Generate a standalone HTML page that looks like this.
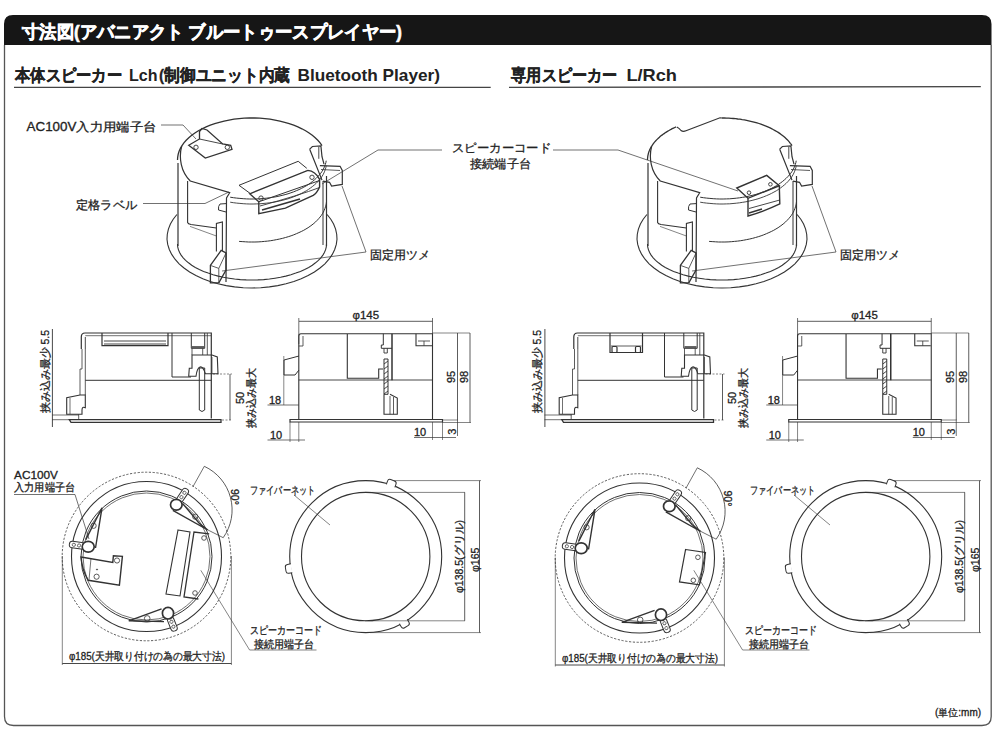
<!DOCTYPE html>
<html><head><meta charset="utf-8">
<style>
html,body{margin:0;padding:0;background:#fff;width:1000px;height:750px;overflow:hidden}
svg{display:block}
text{font-family:"Liberation Sans",sans-serif;fill:#222;stroke:#222;stroke-width:0.3}
</style></head>
<body>
<svg width="1000" height="750" viewBox="0 0 1000 750">
<path d="M4.5,45 V716.5 Q4.5,725.5 13.5,725.5 H982 Q991.2,725.5 991.2,716.5 V45" fill="none" stroke="#555" stroke-width="1.3"/>
<path d="M4,45 V24 Q4,15 13,15 H982 Q991.5,15 991.5,24 V45 Z" fill="#161616"/>
<text x="22" y="37.5" font-size="17.5" font-weight="bold" textLength="380" lengthAdjust="spacingAndGlyphs" style="fill:#fff;stroke:#fff;stroke-width:0.6">寸法図(アバニアクト ブルートゥースプレイヤー)</text>
<g font-size="16.5" font-weight="bold" style="fill:#1a1a1a">
<text x="15" y="81.3" textLength="107" lengthAdjust="spacingAndGlyphs">本体スピーカー</text>
<text x="129" y="81.3" textLength="28.5" lengthAdjust="spacingAndGlyphs" style="stroke-width:0">Lch</text>
<text x="159" y="81.3" textLength="131" lengthAdjust="spacingAndGlyphs">(制御ユニット内蔵</text>
<text x="297.5" y="81.3" textLength="142.5" lengthAdjust="spacingAndGlyphs" style="stroke-width:0">Bluetooth Player)</text></g>
<line x1="14" y1="87.4" x2="490.7" y2="87.4" stroke="#444" stroke-width="1.4"/>
<g font-size="16.5" font-weight="bold" style="fill:#1a1a1a">
<text x="511.4" y="81.3" textLength="105.6" lengthAdjust="spacingAndGlyphs">専用スピーカー</text>
<text x="626.4" y="81.3" textLength="50.6" lengthAdjust="spacingAndGlyphs" style="stroke-width:0">L/Rch</text></g>
<line x1="509" y1="87.4" x2="980.8" y2="86.6" stroke="#444" stroke-width="1.4"/>
<text x="935" y="716" font-size="10">(単位:mm)</text>
<g>
<path d="M327.1,214.5 L330.8,219.2 L333.6,224.1 L335.6,229.1 L336.7,234.2 L337.0,239.3 L336.3,244.4 L334.7,249.5 L332.3,254.4 L329.0,259.2 L324.9,263.8 L320.0,268.0 L314.4,272.0 L308.1,275.6 L301.2,278.8 L293.9,281.5 L286.0,283.8 L277.8,285.6 L269.4,286.9 L260.7,287.7 L252.0,288.0 L243.3,287.7 L234.6,286.9 L226.2,285.6 L218.0,283.8 L210.1,281.5 L202.8,278.8 L195.9,275.6 L189.6,272.0 L184.0,268.0 L179.1,263.8 L175.0,259.2 L171.7,254.4 L169.3,249.5 L167.7,244.4 L167.0,239.3 L167.3,234.2 L168.4,229.1 L170.4,224.1 L173.2,219.2 L176.9,214.5" fill="none" stroke="#333" stroke-width="1.1" />
<path d="M326.5,244.0 L326.3,246.8 L325.6,249.6 L324.4,252.4 L322.9,255.1 L320.8,257.8 L318.4,260.3 L315.5,262.8 L312.3,265.2 L308.7,267.4 L304.7,269.5 L300.4,271.4 L295.8,273.1 L290.9,274.7 L285.8,276.1 L280.5,277.3 L275.0,278.2 L269.4,279.0 L263.7,279.6 L257.8,279.9 L252.0,280.0 L246.2,279.9 L240.3,279.6 L234.6,279.0 L229.0,278.2 L223.5,277.3 L218.2,276.1 L213.1,274.7 L208.2,273.1 L203.6,271.4 L199.3,269.5 L195.3,267.4 L191.7,265.2 L188.5,262.8 L185.6,260.3 L183.2,257.8 L181.1,255.1 L179.6,252.4 L178.4,249.6 L177.7,246.8 L177.5,244.0" fill="none" stroke="#333" stroke-width="1.1" />
<line x1="178" y1="163" x2="178" y2="246" stroke="#333" stroke-width="1.2" />
<line x1="326.5" y1="176" x2="326.5" y2="246" stroke="#333" stroke-width="1.2" />
<path d="M177.5,160.0 L177.7,157.1 L178.2,154.2 L179.1,151.3 L180.4,148.4 L182.0,145.6 L183.9,142.9 L186.2,140.3 L188.8,137.7 L191.7,135.3 L194.9,133.0 L198.4,130.8 L202.1,128.8 L206.1,126.9 L210.3,125.2 L214.7,123.6 L219.3,122.3 L224.1,121.1 L229.0,120.1 L234.0,119.2 L239.1,118.6 L244.2,118.2 L249.4,118.0 L254.6,118.0 L259.8,118.2 L264.9,118.6 L270.0,119.2 L275.0,120.1 L279.9,121.1 L284.7,122.3 L289.2,123.6 L293.7,125.2 L297.9,126.9 L301.9,128.8 L305.6,130.8 L309.1,133.0 L312.3,135.3 L315.2,137.7 L317.8,140.3 L320.1,142.9 L322.0,145.6" fill="none" stroke="#333" stroke-width="1.3" />
<path d="M181.7,146 C178.5,158 181,172 190.3,181 L229.7,192.7 L226.5,198 L226,282" fill="none" stroke="#333" stroke-width="1.2" />
<path d="M230.2,197.2 L233.4,197.7 L236.6,198.1 L239.9,198.4 L243.2,198.7 L246.5,198.9 L249.8,199.0 L253.1,199.0 L256.4,198.9 L259.7,198.8 L263.0,198.5 L266.3,198.2 L269.5,197.8 L272.7,197.3 L275.9,196.8 L279.0,196.1 L282.1,195.4 L285.1,194.6 L288.0,193.8 L290.9,192.8 L293.7,191.8 L296.4,190.7 L299.0,189.6 L301.5,188.4 L303.9,187.1 L306.3,185.8 L308.5,184.4 L310.6,182.9 L312.6,181.4 L314.4,179.9 L316.2,178.3 L317.8,176.7 L319.3,175.0 L320.7,173.3 L321.9,171.6 L323.0,169.8 L323.9,168.0 L324.7,166.2 L325.3,164.4 L325.9,162.5 L326.2,160.7" fill="none" stroke="#333" stroke-width="1.0" />
<path d="M230.2,202.2 L233.4,202.7 L236.6,203.1 L239.9,203.4 L243.2,203.7 L246.5,203.9 L249.8,204.0 L253.1,204.0 L256.4,203.9 L259.7,203.8 L263.0,203.5 L266.3,203.2 L269.5,202.8 L272.7,202.3 L275.9,201.8 L279.0,201.1 L282.1,200.4 L285.1,199.6 L288.0,198.8 L290.9,197.8 L293.7,196.8 L296.4,195.7 L299.0,194.6 L301.5,193.4 L303.9,192.1 L306.3,190.8 L308.5,189.4 L310.6,187.9 L312.6,186.4 L314.4,184.9 L316.2,183.3 L317.8,181.7 L319.3,180.0 L320.7,178.3 L321.9,176.6 L323.0,174.8 L323.9,173.0 L324.7,171.2 L325.3,169.4 L325.9,167.5 L326.2,165.7" fill="none" stroke="#333" stroke-width="0.9" />
<path d="M239.1,241.4 L242.2,241.6 L245.4,241.8 L248.6,242.0 L251.7,242.0 L254.9,242.0 L258.1,241.9 L261.3,241.7 L264.4,241.4 L267.6,241.1 L270.7,240.7 L273.7,240.2 L276.7,239.6 L279.7,239.0 L282.7,238.3 L285.5,237.5 L288.3,236.7 L291.1,235.8 L293.8,234.8 L296.4,233.7 L298.9,232.6 L301.3,231.5 L303.7,230.3 L305.9,229.0 L308.1,227.7 L310.1,226.3 L312.0,224.9 L313.9,223.4 L315.6,221.9 L317.2,220.3 L318.7,218.7 L320.0,217.1 L321.3,215.5 L322.4,213.8 L323.4,212.1 L324.2,210.3 L324.9,208.6 L325.5,206.8 L326.0,205.0 L326.3,203.3 L326.5,201.5" fill="none" stroke="#333" stroke-width="1.0" />
<path d="M187.6,181 L187.6,222.5 Q188,224 191,224.5 L216.4,228" fill="none" stroke="#333" stroke-width="1.1" />
<line x1="190" y1="226.4" x2="216.4" y2="236" stroke="#333" stroke-width="0.6" />
<path d="M226,203.6 L220,204 Q218,206 218.5,210 L226,212" fill="none" stroke="#333" stroke-width="1.0" />
<path d="M216.4,251.6 L216.4,223.4 L222.4,222 L222.4,251" fill="none" stroke="#333" stroke-width="1.1" />
<path d="M210.4,265.4 L221.2,250.4 L226,252.8 L226,270 L218.8,282.8 L210.4,282.8 Z" fill="none" stroke="#333" stroke-width="1.3" />
<path d="M210.4,265.4 L218.8,268.4 L218.8,282.8 M218.8,268.4 L226,253" fill="none" stroke="#333" stroke-width="0.8" />
<path d="M309.7,149.2 L312.4,146.5 L320.9,146 L322,156.7 L324,164.1 M309.7,149.2 L322,180.1" fill="none" stroke="#333" stroke-width="1.2" />
<line x1="318.8" y1="147" x2="318.8" y2="158.8" stroke="#333" stroke-width="0.9" />
<path d="M319.9,165.7 L340.1,166.3 L342.3,170.5 L342.3,184.4 L331.6,186 L329.5,182.3 L323,181.2" fill="none" stroke="#333" stroke-width="1.2" />
<line x1="321" y1="169.5" x2="340" y2="170.5" stroke="#333" stroke-width="0.8" />
<line x1="323" y1="181" x2="323" y2="245" stroke="#333" stroke-width="1.0" />
<path d="M188.7,145.3 L205.3,158 L232,149.3 L230.7,145.3 L222.7,144 L207,130 L202,128.5 L199.5,131.5 L199.5,139 Z" fill="none" stroke="#333" stroke-width="1.3" />
<line x1="199.5" y1="139" x2="222.7" y2="144" stroke="#333" stroke-width="0.9" />
<circle cx="196" cy="147.3" r="2.2" fill="none" stroke="#333" stroke-width="0.9" />
<circle cx="227.3" cy="147.3" r="2.2" fill="none" stroke="#333" stroke-width="0.9" />
<path d="M250,193.3 L239,185.3 L298.2,161.3 L306.8,168.3" fill="none" stroke="#333" stroke-width="1.0" />
<path d="M249.7,193.8 L307.8,170.4 Q315.3,171 319.6,179.4 L319.6,187 Q317,193 313.2,195.4 L285.4,208.2 L258.8,213.6 L258.8,201.8 Z" fill="none" stroke="#333" stroke-width="1.4" />
<line x1="258.8" y1="201.8" x2="319.6" y2="180.5" stroke="#333" stroke-width="1.0" />
<path d="M260,206 Q300,195 319.6,187.5" fill="none" stroke="#333" stroke-width="0.9" />
<path d="M262,210 L300,199" fill="none" stroke="#333" stroke-width="1.6" />
<circle cx="261" cy="198.1" r="2.2" fill="none" stroke="#333" stroke-width="0.9" />
<circle cx="312" cy="177.3" r="2.2" fill="none" stroke="#333" stroke-width="0.9" />
<line x1="52.4" y1="329" x2="52.4" y2="427" stroke="#333" stroke-width="0.9" />
<line x1="52" y1="415" x2="79" y2="415" stroke="#333" stroke-width="0.7" />
<line x1="52" y1="419.7" x2="69" y2="419.7" stroke="#333" stroke-width="0.7" />
<path d="M81.3,349 L81.3,337 Q81.3,333 85,333 L211.3,333 L211.3,418.5" fill="none" stroke="#333" stroke-width="1.2" />
<line x1="85.3" y1="335.7" x2="211" y2="335.7" stroke="#333" stroke-width="0.7" />
<line x1="85.3" y1="337" x2="85.3" y2="349" stroke="#333" stroke-width="0.9" />
<path d="M82,349 L82,369 L80,369 L80,395 M85.3,349 L85.3,395" fill="none" stroke="#333" stroke-width="0.8" />
<line x1="85.3" y1="380.3" x2="211.3" y2="380.3" stroke="#333" stroke-width="1.0" />
<path d="M69.3,419.7 L221,419.7 L221,422.3 L71,422.3 Z" fill="none" stroke="#333" stroke-width="1.3" />
<line x1="78.7" y1="414.3" x2="78.7" y2="419.7" stroke="#333" stroke-width="0.8" />
<path d="M172,333 L172,377 L191,377" fill="none" stroke="#333" stroke-width="1.0" />
<path d="M191.3,333 L191.3,348.3 L204.7,348.3 L204.7,333" fill="none" stroke="#333" stroke-width="1.0" />
<line x1="192" y1="347" x2="204" y2="347" stroke="#333" stroke-width="1.5" />
<line x1="207.3" y1="333" x2="207.3" y2="355" stroke="#333" stroke-width="0.8" />
<line x1="192" y1="348.3" x2="192" y2="355" stroke="#333" stroke-width="0.8" />
<line x1="202.7" y1="348.3" x2="202.7" y2="355" stroke="#333" stroke-width="0.8" />
<path d="M192,355 L212,355 L217.3,357 L218,373.7 L205.3,373.7 Q203,366 200,367 Q197,368 196,376.3 L188.7,376.3 L189.3,368.3 L192,368.3 Z" fill="none" stroke="#333" stroke-width="1.1" />
<line x1="212" y1="357" x2="212" y2="373.7" stroke="#333" stroke-width="0.7" />
<path d="M199.3,368 L204.7,368 L204.7,410 Q202,413 199.3,410 Z" fill="none" stroke="#333" stroke-width="1.0" />
<path d="M66.7,414.3 L66.7,397.7 L80,395 L85.3,395 L85.3,407.7 Q82,406 82,410 L82,414.3 Z" fill="none" stroke="#333" stroke-width="1.1" />
<line x1="70" y1="398" x2="70" y2="414" stroke="#333" stroke-width="0.7" />
<path d="M102,333 L102,345.7 L168,345.7 L168,333" fill="none" stroke="#333" stroke-width="1.2" />
<path d="M104,341 L166,341 M104,344 L166,344" fill="none" stroke="#333" stroke-width="0.9" />
<line x1="230" y1="374" x2="230" y2="420" stroke="#333" stroke-width="0.8" />
<line x1="213" y1="374" x2="232" y2="374" stroke="#333" stroke-width="0.6" stroke-dasharray="2,1.5"/>
<line x1="222" y1="420" x2="232" y2="420" stroke="#333" stroke-width="0.6" stroke-dasharray="2,1.5"/>
<text transform="translate(48.5,413) rotate(-90)" font-size="10.5" textLength="83" lengthAdjust="spacingAndGlyphs">挟み込み最少 5.5</text>
<text transform="translate(243.5,404) rotate(-90)" font-size="11">50</text>
<text transform="translate(254.5,428) rotate(-90)" font-size="10.5" textLength="60" lengthAdjust="spacingAndGlyphs">挟み込み最大</text>
<text x="352.5" y="319" font-size="11.5" text-anchor="start" >φ145</text>
<line x1="299" y1="321.3" x2="432.5" y2="321.3" stroke="#333" stroke-width="0.8" />
<line x1="298.8" y1="318" x2="298.8" y2="344" stroke="#333" stroke-width="0.7" />
<line x1="432.5" y1="318" x2="432.5" y2="334" stroke="#333" stroke-width="0.7" />
<path d="M298.8,420 L298.8,336 Q298.8,333.7 301,333.7 L432.5,333.7 L432.5,420" fill="none" stroke="#333" stroke-width="1.1" />
<path d="M298.8,346 L303,346 L303,336" fill="none" stroke="#333" stroke-width="0.8" />
<line x1="298.8" y1="380" x2="432.5" y2="380" stroke="#333" stroke-width="0.9" />
<path d="M290,419.5 L442.5,419.5 L442.5,422 L290,422 Z" fill="none" stroke="#333" stroke-width="1.2" />
<path d="M347.3,334 L347.3,378.3 L378.7,378.3 L378.7,369 L383,369" fill="none" stroke="#333" stroke-width="1.1" />
<line x1="392" y1="333.7" x2="392" y2="380.3" stroke="#333" stroke-width="1.5" />
<path d="M383.3,333.7 L383.3,345 L381.3,345 L381.3,348.3 L392,348.3" fill="none" stroke="#333" stroke-width="1.0" />
<path d="M384,348.3 L384,353 L387.3,353 L387.3,348.3" fill="none" stroke="#333" stroke-width="0.9" />
<path d="M384,359 L388,359 L388,394.3 L384,394.3 Z" fill="none" stroke="#333" stroke-width="1.0" />
<line x1="384" y1="364" x2="388" y2="361" stroke="#333" stroke-width="0.9" />
<line x1="384" y1="369" x2="388" y2="366" stroke="#333" stroke-width="0.9" />
<line x1="384" y1="374" x2="388" y2="371" stroke="#333" stroke-width="0.9" />
<line x1="384" y1="379" x2="388" y2="376" stroke="#333" stroke-width="0.9" />
<line x1="384" y1="384" x2="388" y2="381" stroke="#333" stroke-width="0.9" />
<line x1="384" y1="389" x2="388" y2="386" stroke="#333" stroke-width="0.9" />
<line x1="384" y1="394" x2="388" y2="391" stroke="#333" stroke-width="0.9" />
<path d="M384,394.3 L384,414.3 L397.3,414.3 L397.3,398 L390,394.3" fill="none" stroke="#333" stroke-width="1.1" />
<line x1="390" y1="396" x2="390" y2="414.3" stroke="#333" stroke-width="0.8" />
<line x1="393.5" y1="397" x2="393.5" y2="414.3" stroke="#333" stroke-width="0.8" />
<path d="M416,333.7 L416,345.7 L432,345.7" fill="none" stroke="#333" stroke-width="1.1" />
<path d="M418,341 L430,341 M424,341 L424,345.7" fill="none" stroke="#333" stroke-width="0.8" />
<path d="M299,356 L284,360 L284,375 L295,375 L299,370" fill="none" stroke="#333" stroke-width="1.0" />
<line x1="283.8" y1="356" x2="283.8" y2="405" stroke="#333" stroke-width="0.6" />
<line x1="267.5" y1="405" x2="298.8" y2="405" stroke="#333" stroke-width="0.7" />
<text x="269" y="404" font-size="11" text-anchor="start" >18</text>
<line x1="290" y1="422" x2="290" y2="442" stroke="#333" stroke-width="0.6" />
<line x1="298.8" y1="422" x2="298.8" y2="442" stroke="#333" stroke-width="0.6" />
<line x1="267.5" y1="440" x2="305" y2="440" stroke="#333" stroke-width="0.7" />
<text x="270" y="439" font-size="11" text-anchor="start" >10</text>
<line x1="432.5" y1="422" x2="432.5" y2="440" stroke="#333" stroke-width="0.6" />
<line x1="442.5" y1="422" x2="442.5" y2="440" stroke="#333" stroke-width="0.6" />
<line x1="414" y1="437.5" x2="456" y2="437.5" stroke="#333" stroke-width="0.7" />
<text x="414" y="436" font-size="11" text-anchor="start" >10</text>
<text transform="translate(456,434.8) rotate(-90)" font-size="11">3</text>
<line x1="457.5" y1="420" x2="457.5" y2="436" stroke="#333" stroke-width="0.7" />
<line x1="432.5" y1="333" x2="470" y2="333" stroke="#333" stroke-width="0.6" />
<line x1="442.5" y1="420" x2="458" y2="420" stroke="#333" stroke-width="0.6" />
<line x1="442.5" y1="422.5" x2="471" y2="422.5" stroke="#333" stroke-width="0.6" />
<line x1="457.5" y1="333" x2="457.5" y2="420" stroke="#333" stroke-width="0.8" />
<line x1="470" y1="333" x2="470" y2="422.5" stroke="#333" stroke-width="0.8" />
<text transform="translate(455,383) rotate(-90)" font-size="11">95</text>
<text transform="translate(468.3,383) rotate(-90)" font-size="11">98</text>
<circle cx="146.5" cy="556.5" r="84.3" fill="none" stroke="#333" stroke-width="0.8" stroke-dasharray="2.2,1.6"/>
<circle cx="146.5" cy="556.5" r="75" fill="none" stroke="#333" stroke-width="1.1" />
<circle cx="146.5" cy="556.5" r="65.5" fill="none" stroke="#333" stroke-width="1.0" />
<circle cx="146.5" cy="556.5" r="63.5" fill="none" stroke="#333" stroke-width="0.7" />
<line x1="62.3" y1="556" x2="62.3" y2="665" stroke="#333" stroke-width="0.6" />
<line x1="231.4" y1="556" x2="231.4" y2="665" stroke="#333" stroke-width="0.6" />
<line x1="62.3" y1="663.5" x2="231.4" y2="663.5" stroke="#333" stroke-width="0.9" />
<text x="69" y="660" font-size="11" text-anchor="start" textLength="156" lengthAdjust="spacingAndGlyphs">φ185(天井取り付けの為の最大寸法)</text>
<g transform="translate(176.3,504.8) rotate(-56)"><rect x="4" y="-3.25" width="15" height="6.5" rx="3" fill="#fff" stroke="#333" stroke-width="1.0"/><circle cx="9.25" cy="0" r="1.6" fill="none" stroke="#333" stroke-width="0.7"/><circle cx="14.5" cy="0" r="1.6" fill="none" stroke="#333" stroke-width="0.7"/></g>
<path d="M172.8,510.4 L207.8,530 L199,523 L182.6,503.4" fill="none" stroke="#333" stroke-width="1.4" />
<circle cx="195.2" cy="516.7" r="2.6" fill="none" stroke="#333" stroke-width="0.8" />
<ellipse cx="176.3" cy="504.8" rx="5.8" ry="5.4" fill="#fff" stroke="#333" stroke-width="1.7"/>
<g transform="translate(88.2,546.8) rotate(188)"><rect x="4" y="-3.25" width="15" height="6.5" rx="3" fill="#fff" stroke="#333" stroke-width="1.0"/><circle cx="9.25" cy="0" r="1.6" fill="none" stroke="#333" stroke-width="0.7"/><circle cx="14.5" cy="0" r="1.6" fill="none" stroke="#333" stroke-width="0.7"/></g>
<path d="M85.8,539.6 L102,507.8 L95.5,548" fill="none" stroke="#333" stroke-width="1.4" />
<circle cx="93.6" cy="525.8" r="2.6" fill="none" stroke="#333" stroke-width="0.8" />
<ellipse cx="88.2" cy="546.8" rx="6" ry="5.4" fill="#fff" stroke="#333" stroke-width="1.7"/>
<g transform="translate(168,613.2) rotate(68)"><rect x="4" y="-3.25" width="15" height="6.5" rx="3" fill="#fff" stroke="#333" stroke-width="1.0"/><circle cx="9.25" cy="0" r="1.6" fill="none" stroke="#333" stroke-width="0.7"/><circle cx="14.5" cy="0" r="1.6" fill="none" stroke="#333" stroke-width="0.7"/></g>
<path d="M161.6,608.8 L128.8,620.8 L164,621.6" fill="none" stroke="#333" stroke-width="1.4" />
<circle cx="147.2" cy="618.4" r="2.8" fill="none" stroke="#333" stroke-width="0.8" />
<ellipse cx="168" cy="613.2" rx="5.6" ry="5.8" fill="#fff" stroke="#333" stroke-width="1.7"/>
<line x1="193" y1="486.6" x2="204.3" y2="466.3" stroke="#333" stroke-width="0.7" />
<line x1="208" y1="530" x2="223.2" y2="537.7" stroke="#333" stroke-width="0.7" />
<path d="M204.3,466.3 A48,48 0 0 1 223.2,537.7" fill="none" stroke="#333" stroke-width="0.8" />
<text transform="translate(230.5,489) rotate(90)" font-size="10.5">90°</text>
<path d="M81,557 L112.8,562.4 L113.4,555.8 L122.4,556.4 L119.4,585.1 L88.2,580.3 Q82,570 81,557 Z" fill="none" stroke="#333" stroke-width="1.4" />
<line x1="91" y1="558" x2="89" y2="580" stroke="#333" stroke-width="0.7" />
<circle cx="117" cy="560.5" r="2.6" fill="none" stroke="#333" stroke-width="0.8" />
<circle cx="96.6" cy="576.7" r="2.6" fill="none" stroke="#333" stroke-width="0.8" />
<circle cx="97" cy="569.5" r="0.6" fill="#333" stroke="#333" stroke-width="0.6" />
<path d="M178,530 L190,532 L180,596 L166,594 Z" fill="none" stroke="#333" stroke-width="1.1" />
<path d="M209.2,533.8 L194,532 L184,597 L198.4,599" fill="none" stroke="#333" stroke-width="1.3" />
<circle cx="204" cy="538" r="2.3" fill="none" stroke="#333" stroke-width="0.8" />
<circle cx="195" cy="593" r="2.3" fill="none" stroke="#333" stroke-width="0.8" />
<circle cx="365.7" cy="556.6" r="76" fill="none" stroke="#333" stroke-width="1.1" />
<circle cx="365.7" cy="556.6" r="64.2" fill="none" stroke="#333" stroke-width="1.1" />
<g transform="translate(390.6,485.9) rotate(109.4)"><path d="M0,-4.5 L-3.5,-4.5 Q-6,-4.5 -6,-2 L-6,2 Q-6,4.5 -3.5,4.5 L0,4.5" fill="#fff" stroke="#333" stroke-width="1.0"/></g>
<g transform="translate(291.6,568.3) rotate(351)"><path d="M0,-4.5 L-3.5,-4.5 Q-6,-4.5 -6,-2 L-6,2 Q-6,4.5 -3.5,4.5 L0,4.5" fill="#fff" stroke="#333" stroke-width="1.0"/></g>
<g transform="translate(403.3,621.5) rotate(239.9)"><path d="M0,-4.5 L-3.5,-4.5 Q-6,-4.5 -6,-2 L-6,2 Q-6,4.5 -3.5,4.5 L0,4.5" fill="#fff" stroke="#333" stroke-width="1.0"/></g>
<line x1="394" y1="480.6" x2="481" y2="480.6" stroke="#333" stroke-width="0.6" />
<line x1="365" y1="492.4" x2="465" y2="492.4" stroke="#333" stroke-width="0.6" />
<line x1="365" y1="620.8" x2="465" y2="620.8" stroke="#333" stroke-width="0.6" />
<line x1="370" y1="632.6" x2="481" y2="632.6" stroke="#333" stroke-width="0.6" />
<line x1="464.7" y1="492.4" x2="464.7" y2="620.8" stroke="#333" stroke-width="0.8" />
<line x1="479.5" y1="480.6" x2="479.5" y2="632.6" stroke="#333" stroke-width="0.8" />
<text transform="translate(463,593) rotate(-90)" font-size="10.5" textLength="73" lengthAdjust="spacingAndGlyphs">φ138.5(グリル)</text>
<text transform="translate(478.5,572) rotate(-90)" font-size="10.5">φ165</text>
<text x="250" y="494" font-size="11" text-anchor="start" textLength="65" lengthAdjust="spacingAndGlyphs">ファイバーネット</text>
<line x1="294" y1="495" x2="330" y2="525" stroke="#333" stroke-width="0.6" />
<text x="26.6" y="131" font-size="12" text-anchor="start" textLength="130" lengthAdjust="spacingAndGlyphs">AC100V入力用端子台</text>
<path d="M161,125 L183,125 L196,139" fill="none" stroke="#333" stroke-width="0.7" />
<text x="76" y="209" font-size="12" text-anchor="start" textLength="61" lengthAdjust="spacingAndGlyphs">定格ラベル</text>
<path d="M143,203.5 L205,203.5 L229,192" fill="none" stroke="#333" stroke-width="0.7" />
<text x="370" y="259" font-size="12" text-anchor="start" textLength="60" lengthAdjust="spacingAndGlyphs">固定用ツメ</text>
<path d="M342,186 L366,252 L222,271" fill="none" stroke="#333" stroke-width="0.7" />
<text x="452" y="152" font-size="12" text-anchor="start" textLength="99" lengthAdjust="spacingAndGlyphs">スピーカーコード</text>
<text x="470" y="168" font-size="12" text-anchor="start" textLength="61" lengthAdjust="spacingAndGlyphs">接続端子台</text>
<path d="M442,150 L378,150 L322,184" fill="none" stroke="#333" stroke-width="0.7" />
<text x="14" y="479" font-size="11" text-anchor="start" textLength="44" lengthAdjust="spacingAndGlyphs">AC100V</text>
<text x="14" y="491" font-size="11" text-anchor="start" textLength="61" lengthAdjust="spacingAndGlyphs">入力用端子台</text>
<path d="M14,494.5 L75,494.5 L89,539" fill="none" stroke="#333" stroke-width="0.7" />
<text x="250" y="634" font-size="10.5" text-anchor="start" textLength="72" lengthAdjust="spacingAndGlyphs">スピーカーコード</text>
<text x="254" y="648" font-size="10.5" text-anchor="start" textLength="60" lengthAdjust="spacingAndGlyphs">接続用端子台</text>
<path d="M200.8,570.3 L249.6,650 L316.5,650" fill="none" stroke="#333" stroke-width="0.6" />
</g>
<g transform="translate(470,0)">
<path d="M327.1,214.5 L330.8,219.2 L333.6,224.1 L335.6,229.1 L336.7,234.2 L337.0,239.3 L336.3,244.4 L334.7,249.5 L332.3,254.4 L329.0,259.2 L324.9,263.8 L320.0,268.0 L314.4,272.0 L308.1,275.6 L301.2,278.8 L293.9,281.5 L286.0,283.8 L277.8,285.6 L269.4,286.9 L260.7,287.7 L252.0,288.0 L243.3,287.7 L234.6,286.9 L226.2,285.6 L218.0,283.8 L210.1,281.5 L202.8,278.8 L195.9,275.6 L189.6,272.0 L184.0,268.0 L179.1,263.8 L175.0,259.2 L171.7,254.4 L169.3,249.5 L167.7,244.4 L167.0,239.3 L167.3,234.2 L168.4,229.1 L170.4,224.1 L173.2,219.2 L176.9,214.5" fill="none" stroke="#333" stroke-width="1.1" />
<path d="M326.5,244.0 L326.3,246.8 L325.6,249.6 L324.4,252.4 L322.9,255.1 L320.8,257.8 L318.4,260.3 L315.5,262.8 L312.3,265.2 L308.7,267.4 L304.7,269.5 L300.4,271.4 L295.8,273.1 L290.9,274.7 L285.8,276.1 L280.5,277.3 L275.0,278.2 L269.4,279.0 L263.7,279.6 L257.8,279.9 L252.0,280.0 L246.2,279.9 L240.3,279.6 L234.6,279.0 L229.0,278.2 L223.5,277.3 L218.2,276.1 L213.1,274.7 L208.2,273.1 L203.6,271.4 L199.3,269.5 L195.3,267.4 L191.7,265.2 L188.5,262.8 L185.6,260.3 L183.2,257.8 L181.1,255.1 L179.6,252.4 L178.4,249.6 L177.7,246.8 L177.5,244.0" fill="none" stroke="#333" stroke-width="1.1" />
<line x1="178" y1="163" x2="178" y2="246" stroke="#333" stroke-width="1.2" />
<line x1="326.5" y1="176" x2="326.5" y2="246" stroke="#333" stroke-width="1.2" />
<path d="M177.5,160.0 L177.5,159.0 L177.6,158.1 L177.7,157.1 L177.8,156.2 L178.0,155.2 L178.2,154.3 L178.4,153.4 L178.7,152.4 L179.0,151.5 L179.4,150.6 L179.8,149.6 L180.2,148.7 L180.7,147.8 L181.2,146.9 L181.8,146.0 L182.4,145.1 L183.0,144.2 L183.6,143.3 L184.3,142.4 L185.0,141.6 L185.8,140.7 L186.6,139.9 L187.4,139.1 L188.3,138.2 L189.2,137.4 L190.1,136.6 L191.0,135.8 L192.0,135.1 L193.1,134.3 L194.1,133.6 L195.2,132.8 L196.3,132.1 L197.4,131.4 L198.6,130.7 L199.8,130.0 L201.0,129.4 L202.2,128.7 L203.5,128.1 L204.8,127.5 L206.1,126.9" fill="none" stroke="#333" stroke-width="1.3" />
<path d="M252.0,118.0 L254.3,118.0 L256.5,118.1 L258.8,118.2 L261.1,118.3 L263.3,118.5 L265.6,118.7 L267.8,119.0 L270.0,119.2 L272.2,119.6 L274.4,119.9 L276.6,120.3 L278.7,120.8 L280.8,121.3 L282.9,121.8 L285.0,122.3 L287.0,122.9 L289.0,123.5 L290.9,124.2 L292.8,124.9 L294.7,125.6 L296.6,126.3 L298.4,127.1 L300.1,127.9 L301.9,128.8 L303.5,129.7 L305.1,130.6 L306.7,131.5 L308.2,132.4 L309.7,133.4 L311.1,134.4 L312.5,135.5 L313.8,136.5 L315.0,137.6 L316.2,138.7 L317.3,139.8 L318.4,140.9 L319.4,142.1 L320.3,143.3 L321.2,144.4 L322.0,145.6" fill="none" stroke="#333" stroke-width="1.3" />
<path d="M181.7,146 C178.5,158 181,172 190.3,181 L229.7,192.7 L226.5,198 L226,282" fill="none" stroke="#333" stroke-width="1.2" />
<path d="M230.2,197.2 L233.4,197.7 L236.6,198.1 L239.9,198.4 L243.2,198.7 L246.5,198.9 L249.8,199.0 L253.1,199.0 L256.4,198.9 L259.7,198.8 L263.0,198.5 L266.3,198.2 L269.5,197.8 L272.7,197.3 L275.9,196.8 L279.0,196.1 L282.1,195.4 L285.1,194.6 L288.0,193.8 L290.9,192.8 L293.7,191.8 L296.4,190.7 L299.0,189.6 L301.5,188.4 L303.9,187.1 L306.3,185.8 L308.5,184.4 L310.6,182.9 L312.6,181.4 L314.4,179.9 L316.2,178.3 L317.8,176.7 L319.3,175.0 L320.7,173.3 L321.9,171.6 L323.0,169.8 L323.9,168.0 L324.7,166.2 L325.3,164.4 L325.9,162.5 L326.2,160.7" fill="none" stroke="#333" stroke-width="1.0" />
<path d="M230.2,202.2 L233.4,202.7 L236.6,203.1 L239.9,203.4 L243.2,203.7 L246.5,203.9 L249.8,204.0 L253.1,204.0 L256.4,203.9 L259.7,203.8 L263.0,203.5 L266.3,203.2 L269.5,202.8 L272.7,202.3 L275.9,201.8 L279.0,201.1 L282.1,200.4 L285.1,199.6 L288.0,198.8 L290.9,197.8 L293.7,196.8 L296.4,195.7 L299.0,194.6 L301.5,193.4 L303.9,192.1 L306.3,190.8 L308.5,189.4 L310.6,187.9 L312.6,186.4 L314.4,184.9 L316.2,183.3 L317.8,181.7 L319.3,180.0 L320.7,178.3 L321.9,176.6 L323.0,174.8 L323.9,173.0 L324.7,171.2 L325.3,169.4 L325.9,167.5 L326.2,165.7" fill="none" stroke="#333" stroke-width="0.9" />
<path d="M239.1,241.4 L242.2,241.6 L245.4,241.8 L248.6,242.0 L251.7,242.0 L254.9,242.0 L258.1,241.9 L261.3,241.7 L264.4,241.4 L267.6,241.1 L270.7,240.7 L273.7,240.2 L276.7,239.6 L279.7,239.0 L282.7,238.3 L285.5,237.5 L288.3,236.7 L291.1,235.8 L293.8,234.8 L296.4,233.7 L298.9,232.6 L301.3,231.5 L303.7,230.3 L305.9,229.0 L308.1,227.7 L310.1,226.3 L312.0,224.9 L313.9,223.4 L315.6,221.9 L317.2,220.3 L318.7,218.7 L320.0,217.1 L321.3,215.5 L322.4,213.8 L323.4,212.1 L324.2,210.3 L324.9,208.6 L325.5,206.8 L326.0,205.0 L326.3,203.3 L326.5,201.5" fill="none" stroke="#333" stroke-width="1.0" />
<path d="M187.6,181 L187.6,222.5 Q188,224 191,224.5 L216.4,228" fill="none" stroke="#333" stroke-width="1.1" />
<line x1="190" y1="226.4" x2="216.4" y2="236" stroke="#333" stroke-width="0.6" />
<path d="M226,203.6 L220,204 Q218,206 218.5,210 L226,212" fill="none" stroke="#333" stroke-width="1.0" />
<path d="M216.4,251.6 L216.4,223.4 L222.4,222 L222.4,251" fill="none" stroke="#333" stroke-width="1.1" />
<path d="M210.4,265.4 L221.2,250.4 L226,252.8 L226,270 L218.8,282.8 L210.4,282.8 Z" fill="none" stroke="#333" stroke-width="1.3" />
<path d="M210.4,265.4 L218.8,268.4 L218.8,282.8 M218.8,268.4 L226,253" fill="none" stroke="#333" stroke-width="0.8" />
<path d="M309.7,149.2 L312.4,146.5 L320.9,146 L322,156.7 L324,164.1 M309.7,149.2 L322,180.1" fill="none" stroke="#333" stroke-width="1.2" />
<line x1="318.8" y1="147" x2="318.8" y2="158.8" stroke="#333" stroke-width="0.9" />
<path d="M319.9,165.7 L340.1,166.3 L342.3,170.5 L342.3,184.4 L331.6,186 L329.5,182.3 L323,181.2" fill="none" stroke="#333" stroke-width="1.2" />
<line x1="321" y1="169.5" x2="340" y2="170.5" stroke="#333" stroke-width="0.8" />
<line x1="323" y1="181" x2="323" y2="245" stroke="#333" stroke-width="1.0" />
<path d="M206.8,127 Q209,128 211,130.5 Q213,132 216,130.8 L250,117.8 L252,118" fill="none" stroke="#333" stroke-width="1.2" />
<path d="M266.8,188 L296.7,175.4 L309.3,185.7 L278,198.3 Z" fill="none" stroke="#333" stroke-width="1.4" />
<path d="M278,198.3 L278,216 Q295,211 309.8,203.9 L309.3,185.7" fill="none" stroke="#333" stroke-width="1.4" />
<circle cx="279" cy="192.7" r="1.8" fill="none" stroke="#333" stroke-width="0.9" />
<circle cx="300.4" cy="184.3" r="1.8" fill="none" stroke="#333" stroke-width="0.9" />
<line x1="279" y1="208.5" x2="309.8" y2="200" stroke="#333" stroke-width="0.9" />
<line x1="279" y1="213" x2="292" y2="209" stroke="#333" stroke-width="1.4" />
</g>
<g transform="translate(492.5,0)">
<line x1="52.4" y1="329" x2="52.4" y2="427" stroke="#333" stroke-width="0.9" />
<line x1="52" y1="415" x2="79" y2="415" stroke="#333" stroke-width="0.7" />
<line x1="52" y1="419.7" x2="69" y2="419.7" stroke="#333" stroke-width="0.7" />
<path d="M81.3,349 L81.3,337 Q81.3,333 85,333 L211.3,333 L211.3,418.5" fill="none" stroke="#333" stroke-width="1.2" />
<line x1="85.3" y1="335.7" x2="211" y2="335.7" stroke="#333" stroke-width="0.7" />
<line x1="85.3" y1="337" x2="85.3" y2="349" stroke="#333" stroke-width="0.9" />
<path d="M82,349 L82,369 L80,369 L80,395 M85.3,349 L85.3,395" fill="none" stroke="#333" stroke-width="0.8" />
<line x1="85.3" y1="380.3" x2="211.3" y2="380.3" stroke="#333" stroke-width="1.0" />
<path d="M69.3,419.7 L221,419.7 L221,422.3 L71,422.3 Z" fill="none" stroke="#333" stroke-width="1.3" />
<line x1="78.7" y1="414.3" x2="78.7" y2="419.7" stroke="#333" stroke-width="0.8" />
<path d="M172,333 L172,377 L191,377" fill="none" stroke="#333" stroke-width="1.0" />
<path d="M191.3,333 L191.3,348.3 L204.7,348.3 L204.7,333" fill="none" stroke="#333" stroke-width="1.0" />
<line x1="192" y1="347" x2="204" y2="347" stroke="#333" stroke-width="1.5" />
<line x1="207.3" y1="333" x2="207.3" y2="355" stroke="#333" stroke-width="0.8" />
<line x1="192" y1="348.3" x2="192" y2="355" stroke="#333" stroke-width="0.8" />
<line x1="202.7" y1="348.3" x2="202.7" y2="355" stroke="#333" stroke-width="0.8" />
<path d="M192,355 L212,355 L217.3,357 L218,373.7 L205.3,373.7 Q203,366 200,367 Q197,368 196,376.3 L188.7,376.3 L189.3,368.3 L192,368.3 Z" fill="none" stroke="#333" stroke-width="1.1" />
<line x1="212" y1="357" x2="212" y2="373.7" stroke="#333" stroke-width="0.7" />
<path d="M199.3,368 L204.7,368 L204.7,410 Q202,413 199.3,410 Z" fill="none" stroke="#333" stroke-width="1.0" />
<path d="M66.7,414.3 L66.7,397.7 L80,395 L85.3,395 L85.3,407.7 Q82,406 82,410 L82,414.3 Z" fill="none" stroke="#333" stroke-width="1.1" />
<line x1="70" y1="398" x2="70" y2="414" stroke="#333" stroke-width="0.7" />
<path d="M117.5,333 L117.5,352.5 L150,352.5 L150,333" fill="none" stroke="#333" stroke-width="1.2" />
<line x1="118.5" y1="346" x2="149" y2="346" stroke="#333" stroke-width="0.8" />
<rect x="119.5" y="346.5" width="5" height="6" rx="1" fill="none" stroke="#333" stroke-width="1.2"/><rect x="143" y="346.5" width="5" height="6" rx="1" fill="none" stroke="#333" stroke-width="1.2"/>
<line x1="230" y1="374" x2="230" y2="420" stroke="#333" stroke-width="0.8" />
<line x1="213" y1="374" x2="232" y2="374" stroke="#333" stroke-width="0.6" stroke-dasharray="2,1.5"/>
<line x1="222" y1="420" x2="232" y2="420" stroke="#333" stroke-width="0.6" stroke-dasharray="2,1.5"/>
<text transform="translate(48.5,413) rotate(-90)" font-size="10.5" textLength="83" lengthAdjust="spacingAndGlyphs">挟み込み最少 5.5</text>
<text transform="translate(243.5,404) rotate(-90)" font-size="11">50</text>
<text transform="translate(254.5,428) rotate(-90)" font-size="10.5" textLength="60" lengthAdjust="spacingAndGlyphs">挟み込み最大</text>
</g>
<g transform="translate(498.75,0)">
<text x="352.5" y="319" font-size="11.5" text-anchor="start" >φ145</text>
<line x1="299" y1="321.3" x2="432.5" y2="321.3" stroke="#333" stroke-width="0.8" />
<line x1="298.8" y1="318" x2="298.8" y2="344" stroke="#333" stroke-width="0.7" />
<line x1="432.5" y1="318" x2="432.5" y2="334" stroke="#333" stroke-width="0.7" />
<path d="M298.8,420 L298.8,336 Q298.8,333.7 301,333.7 L432.5,333.7 L432.5,420" fill="none" stroke="#333" stroke-width="1.1" />
<path d="M298.8,346 L303,346 L303,336" fill="none" stroke="#333" stroke-width="0.8" />
<line x1="298.8" y1="380" x2="432.5" y2="380" stroke="#333" stroke-width="0.9" />
<path d="M290,419.5 L442.5,419.5 L442.5,422 L290,422 Z" fill="none" stroke="#333" stroke-width="1.2" />
<path d="M347.3,334 L347.3,378.3 L378.7,378.3 L378.7,369 L383,369" fill="none" stroke="#333" stroke-width="1.1" />
<line x1="392" y1="333.7" x2="392" y2="380.3" stroke="#333" stroke-width="1.5" />
<path d="M383.3,333.7 L383.3,345 L381.3,345 L381.3,348.3 L392,348.3" fill="none" stroke="#333" stroke-width="1.0" />
<path d="M384,348.3 L384,353 L387.3,353 L387.3,348.3" fill="none" stroke="#333" stroke-width="0.9" />
<path d="M384,359 L388,359 L388,394.3 L384,394.3 Z" fill="none" stroke="#333" stroke-width="1.0" />
<line x1="384" y1="364" x2="388" y2="361" stroke="#333" stroke-width="0.9" />
<line x1="384" y1="369" x2="388" y2="366" stroke="#333" stroke-width="0.9" />
<line x1="384" y1="374" x2="388" y2="371" stroke="#333" stroke-width="0.9" />
<line x1="384" y1="379" x2="388" y2="376" stroke="#333" stroke-width="0.9" />
<line x1="384" y1="384" x2="388" y2="381" stroke="#333" stroke-width="0.9" />
<line x1="384" y1="389" x2="388" y2="386" stroke="#333" stroke-width="0.9" />
<line x1="384" y1="394" x2="388" y2="391" stroke="#333" stroke-width="0.9" />
<path d="M384,394.3 L384,414.3 L397.3,414.3 L397.3,398 L390,394.3" fill="none" stroke="#333" stroke-width="1.1" />
<line x1="390" y1="396" x2="390" y2="414.3" stroke="#333" stroke-width="0.8" />
<line x1="393.5" y1="397" x2="393.5" y2="414.3" stroke="#333" stroke-width="0.8" />
<path d="M416,333.7 L416,345.7 L432,345.7" fill="none" stroke="#333" stroke-width="1.1" />
<path d="M418,341 L430,341 M424,341 L424,345.7" fill="none" stroke="#333" stroke-width="0.8" />
<path d="M299,356 L284,360 L284,375 L295,375 L299,370" fill="none" stroke="#333" stroke-width="1.0" />
<line x1="283.8" y1="356" x2="283.8" y2="405" stroke="#333" stroke-width="0.6" />
<line x1="267.5" y1="405" x2="298.8" y2="405" stroke="#333" stroke-width="0.7" />
<text x="269" y="404" font-size="11" text-anchor="start" >18</text>
<line x1="290" y1="422" x2="290" y2="442" stroke="#333" stroke-width="0.6" />
<line x1="298.8" y1="422" x2="298.8" y2="442" stroke="#333" stroke-width="0.6" />
<line x1="267.5" y1="440" x2="305" y2="440" stroke="#333" stroke-width="0.7" />
<text x="270" y="439" font-size="11" text-anchor="start" >10</text>
<line x1="432.5" y1="422" x2="432.5" y2="440" stroke="#333" stroke-width="0.6" />
<line x1="442.5" y1="422" x2="442.5" y2="440" stroke="#333" stroke-width="0.6" />
<line x1="414" y1="437.5" x2="456" y2="437.5" stroke="#333" stroke-width="0.7" />
<text x="414" y="436" font-size="11" text-anchor="start" >10</text>
<text transform="translate(456,434.8) rotate(-90)" font-size="11">3</text>
<line x1="457.5" y1="420" x2="457.5" y2="436" stroke="#333" stroke-width="0.7" />
<line x1="432.5" y1="333" x2="470" y2="333" stroke="#333" stroke-width="0.6" />
<line x1="442.5" y1="420" x2="458" y2="420" stroke="#333" stroke-width="0.6" />
<line x1="442.5" y1="422.5" x2="471" y2="422.5" stroke="#333" stroke-width="0.6" />
<line x1="457.5" y1="333" x2="457.5" y2="420" stroke="#333" stroke-width="0.8" />
<line x1="470" y1="333" x2="470" y2="422.5" stroke="#333" stroke-width="0.8" />
<text transform="translate(455,383) rotate(-90)" font-size="11">95</text>
<text transform="translate(468.3,383) rotate(-90)" font-size="11">98</text>
</g>
<g transform="translate(493,1.5)">
<circle cx="146.5" cy="556.5" r="84.3" fill="none" stroke="#333" stroke-width="0.8" stroke-dasharray="2.2,1.6"/>
<circle cx="146.5" cy="556.5" r="75" fill="none" stroke="#333" stroke-width="1.1" />
<circle cx="146.5" cy="556.5" r="65.5" fill="none" stroke="#333" stroke-width="1.0" />
<circle cx="146.5" cy="556.5" r="63.5" fill="none" stroke="#333" stroke-width="0.7" />
<line x1="62.3" y1="556" x2="62.3" y2="665" stroke="#333" stroke-width="0.6" />
<line x1="231.4" y1="556" x2="231.4" y2="665" stroke="#333" stroke-width="0.6" />
<line x1="62.3" y1="663.5" x2="231.4" y2="663.5" stroke="#333" stroke-width="0.9" />
<text x="69" y="660" font-size="11" text-anchor="start" textLength="156" lengthAdjust="spacingAndGlyphs">φ185(天井取り付けの為の最大寸法)</text>
<g transform="translate(176.3,504.8) rotate(-56)"><rect x="4" y="-3.25" width="15" height="6.5" rx="3" fill="#fff" stroke="#333" stroke-width="1.0"/><circle cx="9.25" cy="0" r="1.6" fill="none" stroke="#333" stroke-width="0.7"/><circle cx="14.5" cy="0" r="1.6" fill="none" stroke="#333" stroke-width="0.7"/></g>
<path d="M172.8,510.4 L207.8,530 L199,523 L182.6,503.4" fill="none" stroke="#333" stroke-width="1.4" />
<circle cx="195.2" cy="516.7" r="2.6" fill="none" stroke="#333" stroke-width="0.8" />
<ellipse cx="176.3" cy="504.8" rx="5.8" ry="5.4" fill="#fff" stroke="#333" stroke-width="1.7"/>
<g transform="translate(88.2,546.8) rotate(188)"><rect x="4" y="-3.25" width="15" height="6.5" rx="3" fill="#fff" stroke="#333" stroke-width="1.0"/><circle cx="9.25" cy="0" r="1.6" fill="none" stroke="#333" stroke-width="0.7"/><circle cx="14.5" cy="0" r="1.6" fill="none" stroke="#333" stroke-width="0.7"/></g>
<path d="M85.8,539.6 L102,507.8 L95.5,548" fill="none" stroke="#333" stroke-width="1.4" />
<circle cx="93.6" cy="525.8" r="2.6" fill="none" stroke="#333" stroke-width="0.8" />
<ellipse cx="88.2" cy="546.8" rx="6" ry="5.4" fill="#fff" stroke="#333" stroke-width="1.7"/>
<g transform="translate(168,613.2) rotate(68)"><rect x="4" y="-3.25" width="15" height="6.5" rx="3" fill="#fff" stroke="#333" stroke-width="1.0"/><circle cx="9.25" cy="0" r="1.6" fill="none" stroke="#333" stroke-width="0.7"/><circle cx="14.5" cy="0" r="1.6" fill="none" stroke="#333" stroke-width="0.7"/></g>
<path d="M161.6,608.8 L128.8,620.8 L164,621.6" fill="none" stroke="#333" stroke-width="1.4" />
<circle cx="147.2" cy="618.4" r="2.8" fill="none" stroke="#333" stroke-width="0.8" />
<ellipse cx="168" cy="613.2" rx="5.6" ry="5.8" fill="#fff" stroke="#333" stroke-width="1.7"/>
<line x1="193" y1="486.6" x2="204.3" y2="466.3" stroke="#333" stroke-width="0.7" />
<line x1="208" y1="530" x2="223.2" y2="537.7" stroke="#333" stroke-width="0.7" />
<path d="M204.3,466.3 A48,48 0 0 1 223.2,537.7" fill="none" stroke="#333" stroke-width="0.8" />
<text transform="translate(230.5,489) rotate(90)" font-size="10.5">90°</text>
<path d="M192.6,548 L212.5,551 L206.4,583.4 L186.5,580.4 Z" fill="none" stroke="#333" stroke-width="1.2" />
<circle cx="204.9" cy="555.8" r="2.3" fill="none" stroke="#333" stroke-width="0.8" />
<circle cx="200.3" cy="578.8" r="2.3" fill="none" stroke="#333" stroke-width="0.8" />
</g>
<g transform="translate(500,0)">
<circle cx="365.7" cy="556.6" r="76" fill="none" stroke="#333" stroke-width="1.1" />
<circle cx="365.7" cy="556.6" r="64.2" fill="none" stroke="#333" stroke-width="1.1" />
<g transform="translate(390.6,485.9) rotate(109.4)"><path d="M0,-4.5 L-3.5,-4.5 Q-6,-4.5 -6,-2 L-6,2 Q-6,4.5 -3.5,4.5 L0,4.5" fill="#fff" stroke="#333" stroke-width="1.0"/></g>
<g transform="translate(291.6,568.3) rotate(351)"><path d="M0,-4.5 L-3.5,-4.5 Q-6,-4.5 -6,-2 L-6,2 Q-6,4.5 -3.5,4.5 L0,4.5" fill="#fff" stroke="#333" stroke-width="1.0"/></g>
<g transform="translate(403.3,621.5) rotate(239.9)"><path d="M0,-4.5 L-3.5,-4.5 Q-6,-4.5 -6,-2 L-6,2 Q-6,4.5 -3.5,4.5 L0,4.5" fill="#fff" stroke="#333" stroke-width="1.0"/></g>
<line x1="394" y1="480.6" x2="481" y2="480.6" stroke="#333" stroke-width="0.6" />
<line x1="365" y1="492.4" x2="465" y2="492.4" stroke="#333" stroke-width="0.6" />
<line x1="365" y1="620.8" x2="465" y2="620.8" stroke="#333" stroke-width="0.6" />
<line x1="370" y1="632.6" x2="481" y2="632.6" stroke="#333" stroke-width="0.6" />
<line x1="464.7" y1="492.4" x2="464.7" y2="620.8" stroke="#333" stroke-width="0.8" />
<line x1="479.5" y1="480.6" x2="479.5" y2="632.6" stroke="#333" stroke-width="0.8" />
<text transform="translate(463,593) rotate(-90)" font-size="10.5" textLength="73" lengthAdjust="spacingAndGlyphs">φ138.5(グリル)</text>
<text transform="translate(478.5,572) rotate(-90)" font-size="10.5">φ165</text>
<text x="250" y="494" font-size="11" text-anchor="start" textLength="65" lengthAdjust="spacingAndGlyphs">ファイバーネット</text>
<line x1="294" y1="495" x2="330" y2="525" stroke="#333" stroke-width="0.6" />
</g>
<text x="840" y="259" font-size="12" text-anchor="start" textLength="60" lengthAdjust="spacingAndGlyphs">固定用ツメ</text>
<path d="M812,186 L836,252 L692,271" fill="none" stroke="#333" stroke-width="0.7" />
<path d="M553,150 L618,150 L738,191" fill="none" stroke="#333" stroke-width="0.7" />
<text x="745" y="634" font-size="10.5" text-anchor="start" textLength="72" lengthAdjust="spacingAndGlyphs">スピーカーコード</text>
<text x="749" y="648" font-size="10.5" text-anchor="start" textLength="60" lengthAdjust="spacingAndGlyphs">接続用端子台</text>
<path d="M693.8,570.3 L742.6,650 L809.5,650" fill="none" stroke="#333" stroke-width="0.6" />
</svg>
</body></html>
